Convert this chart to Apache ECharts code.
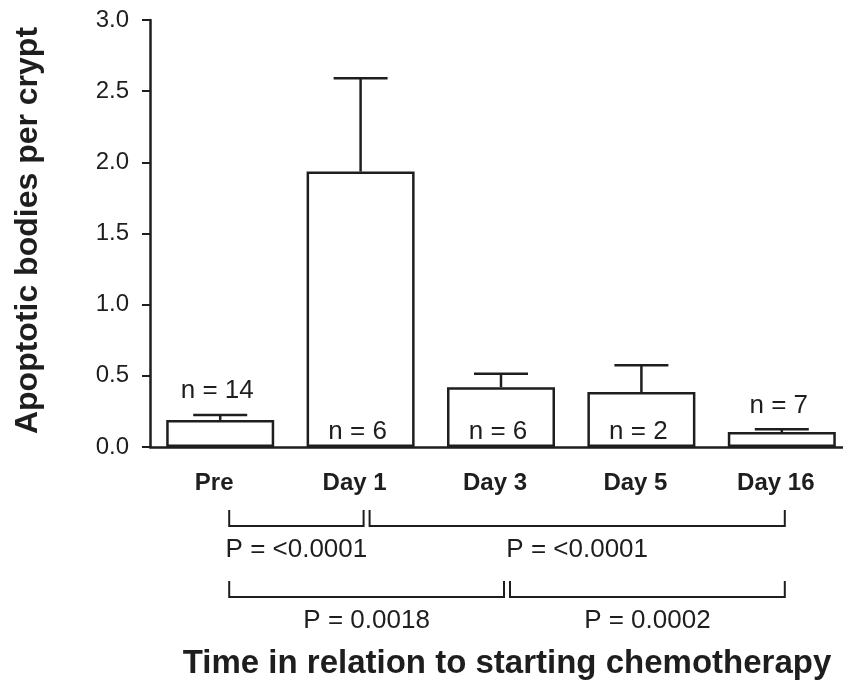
<!DOCTYPE html>
<html>
<head>
<meta charset="utf-8">
<script src="https://cdn.jsdelivr.net/npm/echarts@6/dist/echarts.min.js"></script>
<style>
html, body { margin: 0; padding: 0; background: #fff; }
#chart { width: 843px; height: 686px; }
</style>
</head>
<body>
<div id="chart"></div>
<script>
var categories = ['Pre', 'Day 1', 'Day 3', 'Day 5', 'Day 16'];
var meanValues = [0.19, 1.935, 0.42, 0.386, 0.105];
var errorTops = [0.225, 2.59, 0.515, 0.574, 0.124];
var sampleSizes = [14, 6, 6, 2, 7];
var yTicks = [0, 0.5, 1.0, 1.5, 2.0, 2.5, 3.0];
var comparisons = [[0, 1], [1, 4], [0, 2], [2, 4]];
var comparisonRows = [0, 0, 1, 1];
var pValues = ['<0.0001', '<0.0001', '0.0018', '0.0002'];

var FONT = '"Liberation Sans", Arial, Helvetica, sans-serif';
var INK = '#1e1e1e';

var chart = echarts.init(document.getElementById('chart'));

var errorData = categories.map(function (c, i) {
    return [i, meanValues[i], errorTops[i], sampleSizes[i]];
});
var bracketData = comparisons.map(function (c) {
    return [c[0], c[1], 0];
});

chart.setOption({
    animation: false,
    backgroundColor: '#fff',
    // the last bar runs off the right edge in the original, so don't squeeze the grid in
    grid: { left: 150, top: 20, width: 702, height: 427, outerBoundsMode: 'none', containLabel: false },
    xAxis: {
        type: 'category',
        data: categories,
        name: 'Time in relation to starting chemotherapy',
        nameLocation: 'middle',
        nameGap: 200,
        nameTextStyle: { fontFamily: FONT, fontSize: 33, fontWeight: 'bold', color: INK, padding: [0, 0, 0, 12] },
        axisLine: { lineStyle: { color: INK, width: 2.5 } },
        axisTick: { show: false },
        axisLabel: {
            margin: 24, fontFamily: FONT, fontSize: 24, fontWeight: 'bold', color: INK,
            padding: [0, 12, 0, 0]
        }
    },
    yAxis: {
        type: 'value',
        min: yTicks[0],
        max: yTicks[yTicks.length - 1],
        interval: yTicks[1] - yTicks[0],
        name: 'Apoptotic bodies per crypt',
        nameLocation: 'middle',
        nameGap: 106,
        nameTextStyle: { fontFamily: FONT, fontSize: 32, fontWeight: 'bold', color: INK, padding: [0, 0, 0, 6] },
        axisLine: { show: true, lineStyle: { color: INK, width: 2.5 } },
        axisTick: { show: true, length: 8, lineStyle: { color: INK, width: 2 } },
        splitLine: { show: false },
        axisLabel: {
            margin: 21, fontFamily: FONT, fontSize: 24, color: INK,
            formatter: function (v) { return v.toFixed(1); }
        }
    },
    series: [
        {
            type: 'bar',
            data: meanValues,
            barWidth: 108,
            itemStyle: { color: '#fff', borderColor: INK, borderWidth: 2.5 }
        },
        {
            type: 'custom',
            clip: false,
            z: 5,
            data: errorData,
            encode: { x: 0, y: [1, 2] },
            renderItem: function (params, api) {
                var i = api.value(0);
                var base = api.coord([i, 0]);
                var top = api.coord([i, api.value(1)]);
                var err = api.coord([i, api.value(2)]);
                var x = top[0];
                // label goes above the error bar when the bar is too short to hold it
                var ty = (base[1] - top[1] < 40) ? err[1] - 24 : base[1] - 15;
                var ln = { stroke: INK, lineWidth: 2.5 };
                return {
                    type: 'group',
                    children: [
                        { type: 'line', shape: { x1: x, y1: top[1], x2: x, y2: err[1] }, style: ln },
                        { type: 'line', shape: { x1: x - 27, y1: err[1], x2: x + 27, y2: err[1] }, style: ln },
                        {
                            type: 'text', x: x - 3, y: ty,
                            style: {
                                text: 'n = ' + api.value(3), fill: INK,
                                fontFamily: FONT, fontSize: 26,
                                align: 'center', verticalAlign: 'middle'
                            }
                        }
                    ]
                };
            }
        },
        {
            type: 'custom',
            clip: false,
            z: 5,
            data: bracketData,
            encode: { x: [0, 1], y: 2 },
            renderItem: function (params, api) {
                var a = api.coord([api.value(0), 0]);
                var b = api.coord([api.value(1), 0]);
                var row = comparisonRows[params.dataIndex];
                var x1 = a[0] + 9, x2 = b[0] + 3;
                var yTop = a[1] + 63 + row * 71;
                var yBot = yTop + 16;
                return {
                    type: 'group',
                    children: [
                        {
                            type: 'polyline',
                            shape: { points: [[x1, yTop], [x1, yBot], [x2, yBot], [x2, yTop]] },
                            style: { stroke: INK, lineWidth: 2, fill: null }
                        },
                        {
                            type: 'text', x: (x1 + x2) / 2, y: yBot + 24,
                            style: {
                                text: 'P = ' + pValues[params.dataIndex], fill: INK,
                                fontFamily: FONT, fontSize: 26,
                                align: 'center', verticalAlign: 'middle'
                            }
                        }
                    ]
                };
            }
        }
    ]
});
</script>
</body>
</html>
